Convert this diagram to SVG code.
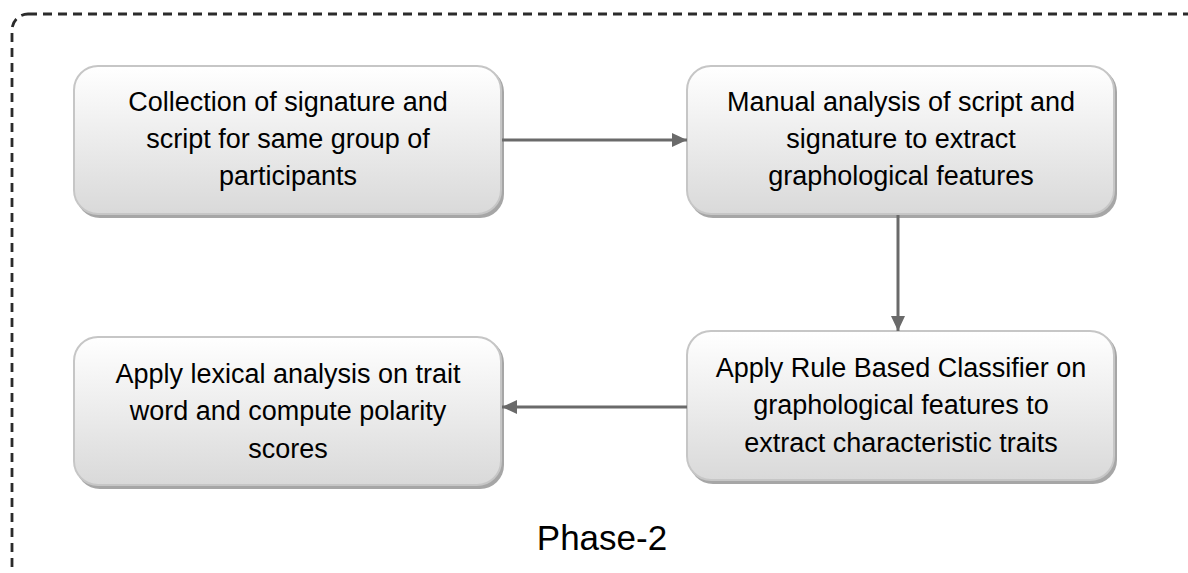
<svg xmlns="http://www.w3.org/2000/svg" width="1188" height="573" viewBox="0 0 1188 573">
<defs>
<linearGradient id="g" x1="0" y1="0" x2="0" y2="1">
<stop offset="0" stop-color="#ffffff"/>
<stop offset="1" stop-color="#d9d9d9"/>
</linearGradient>
<marker id="ah" markerWidth="16" markerHeight="14" refX="15" refY="7" orient="auto" markerUnits="userSpaceOnUse">
<path d="M0,0 L15,7 L0,14 Z" fill="#6a6a6a"/>
</marker>
<style>
.box{fill:url(#g);stroke:#c6c6c6;stroke-width:2}
.sh{fill:#a6a6a6}
.t{font-family:"Liberation Sans",Arial,sans-serif;font-size:27px;fill:#000;text-anchor:middle}
.c{stroke:#6a6a6a;stroke-width:3;fill:none}
</style>
</defs>
<rect x="12" y="14" width="1200" height="580" rx="16" fill="none" stroke="#2b2b2b" stroke-width="2.8" stroke-dasharray="9,6"/>
<g id="n1">
<rect class="sh" x="76" y="68" width="428" height="150" rx="24"/>
<rect class="box" x="74" y="66" width="427" height="148" rx="24"/>
<text class="t" x="288" y="111">Collection of signature and</text>
<text class="t" x="288" y="148">script for same group of</text>
<text class="t" x="288" y="185">participants</text>
</g>
<g id="n2">
<rect class="sh" x="689" y="68" width="428" height="150" rx="24"/>
<rect class="box" x="687" y="66" width="427" height="148" rx="24"/>
<text class="t" x="901" y="111">Manual analysis of script and</text>
<text class="t" x="901" y="148">signature to extract</text>
<text class="t" x="901" y="185">graphological features</text>
</g>
<g id="n3">
<rect class="sh" x="689" y="333" width="428" height="151" rx="24"/>
<rect class="box" x="687" y="331" width="427" height="149" rx="24"/>
<text class="t" x="901" y="377">Apply Rule Based Classifier on</text>
<text class="t" x="901" y="414">graphological features to</text>
<text class="t" x="901" y="452">extract characteristic traits</text>
</g>
<g id="n4">
<rect class="sh" x="76" y="339" width="428" height="150" rx="24"/>
<rect class="box" x="74" y="337" width="427" height="148" rx="24"/>
<text class="t" x="288" y="383">Apply lexical analysis on trait</text>
<text class="t" x="288" y="420">word and compute polarity</text>
<text class="t" x="288" y="458">scores</text>
</g>
<g id="connectors">
<line class="c" x1="502" y1="140" x2="687" y2="140" marker-end="url(#ah)"/>
<line class="c" x1="898" y1="215" x2="898" y2="331" marker-end="url(#ah)"/>
<line class="c" x1="687" y1="407" x2="502" y2="407" marker-end="url(#ah)"/>
</g>
<text x="602" y="550" font-family="Liberation Sans,Arial,sans-serif" font-size="35" text-anchor="middle" fill="#000">Phase-2</text>
</svg>
